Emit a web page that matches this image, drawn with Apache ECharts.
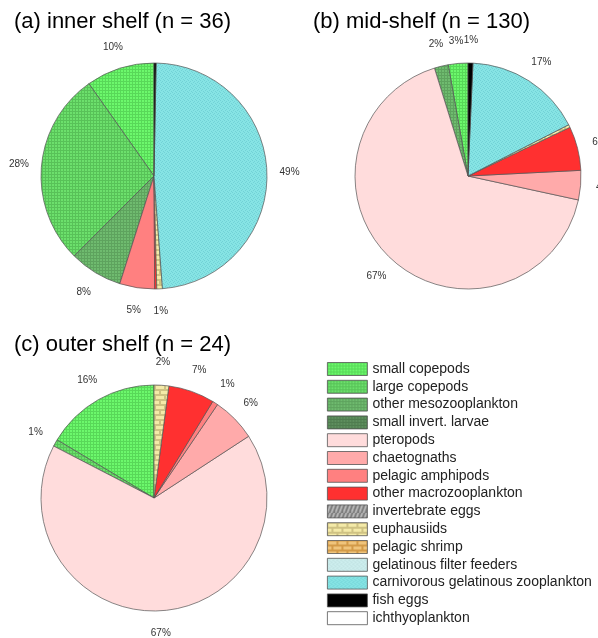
<!DOCTYPE html>
<html>
<head>
<meta charset="utf-8">
<script src="https://cdn.jsdelivr.net/npm/echarts@6/dist/echarts.min.js"></script>
<style>
html, body { margin: 0; padding: 0; background: #fff; }
#main { width: 598px; height: 638px; }
</style>
</head>
<body>
<div id="main"></div>
<script>
// categories, in the order of the legend (and of the slices, counter-clockwise from 12 o'clock)
var categories = [
    'small copepods', 'large copepods', 'other mesozooplankton', 'small invert. larvae',
    'pteropods', 'chaetognaths', 'pelagic amphipods', 'other macrozooplankton',
    'invertebrate eggs', 'euphausiids', 'pelagic shrimp', 'gelatinous filter feeders',
    'carnivorous gelatinous zooplankton', 'fish eggs', 'ichthyoplankton'
];
// percent of diet per shelf region
var innerShelf = [9.8, 27.8, 7.6, 0, 0, 0, 5.0, 0.3, 0, 0.8, 0, 0, 48.6, 0.3, 0];
var midShelf   = [2.8, 0, 2.0, 0, 66.8, 4.2, 0, 6.3, 0, 0.4, 0, 0, 16.8, 0.7, 0];
var outerShelf = [16.4, 1.0, 0, 0, 66.8, 6.3, 0.8, 6.6, 0, 2.1, 0, 0, 0, 0, 0];
var panelTitles = ['(a) inner shelf (n = 36)', '(b) mid-shelf (n = 130)', '(c) outer shelf (n = 24)'];

// --- fill patterns ---
function tile(w, h, draw) {
    var c = document.createElement('canvas');
    c.width = w; c.height = h;
    draw(c.getContext('2d'));
    return { image: c, repeat: 'repeat' };
}
function grid(base, line) {
    return tile(3, 3, function (ctx) {
        ctx.fillStyle = base; ctx.fillRect(0, 0, 3, 3);
        ctx.fillStyle = line; ctx.fillRect(0, 0, 3, 1); ctx.fillRect(0, 0, 1, 3);
    });
}
function speckle(base, dot) {
    return tile(4, 4, function (ctx) {
        ctx.fillStyle = base; ctx.fillRect(0, 0, 4, 4);
        ctx.fillStyle = dot;
        ctx.fillRect(0, 0, 1, 1); ctx.fillRect(2, 1, 1, 1);
        ctx.fillRect(1, 2, 1, 1); ctx.fillRect(3, 3, 1, 1);
    });
}
function bricks(base, block) {
    return tile(10, 10, function (ctx) {
        ctx.fillStyle = base; ctx.fillRect(0, 0, 10, 10);
        ctx.fillStyle = block;
        ctx.fillRect(1, 1, 8, 3);
        ctx.fillRect(-4, 6, 8, 3); ctx.fillRect(6, 6, 8, 3);
    });
}
function stripes(base, line) {
    return tile(8, 8, function (ctx) {
        ctx.fillStyle = base; ctx.fillRect(0, 0, 8, 8);
        ctx.strokeStyle = line; ctx.lineWidth = 1.5;
        ctx.beginPath();
        ctx.moveTo(0, 8); ctx.lineTo(3, 0);
        ctx.moveTo(4, 8); ctx.lineTo(7, 0);
        ctx.stroke();
    });
}

var fills = [
    grid('#6cf86c', '#58d858'),
    grid('#6ce06c', '#58c258'),
    grid('#6fbb6f', '#5ea35e'),
    grid('#5e8f5e', '#4f7c4f'),
    '#ffdcdc',
    '#ffaaaa',
    '#ff8080',
    '#ff3030',
    stripes('#7c7c7c', '#c8c8c8'),
    bricks('#cfc283', '#f4eaa8'),
    bricks('#d39a48', '#efc47c'),
    speckle('#cdeeee', '#bcdede'),
    speckle('#86e4e4', '#72d2d6'),
    '#000000',
    '#ffffff'
];

function buildData(values) {
    var out = [];
    for (var i = 0; i < categories.length; i++) {
        if (values[i] > 0) {
            out.push({ name: categories[i], value: values[i], itemStyle: { color: fills[i] } });
        }
    }
    return out;
}

function pieSeries(values, center) {
    return {
        type: 'pie',
        center: center,
        radius: 113,
        startAngle: 90,
        clockwise: false,
        avoidLabelOverlap: false,
        itemStyle: { borderColor: '#555', borderWidth: 0.7 },
        label: {
            show: true,
            position: 'outside',
            fontFamily: 'Liberation Sans, Arial, sans-serif',
            fontSize: 10,
            color: '#333',
            formatter: function (p) {
                var v = Math.round(p.value);
                return v >= 1 ? v + '%' : '';
            }
        },
        labelLine: { show: true, length: 22.6, length2: 0, lineStyle: { width: 0, opacity: 0 } },
        // put every label centred at 1.2 x radius along the slice's mid angle
        labelLayout: function (p) {
            var pts = p.labelLinePoints;
            if (!pts || !pts[1]) return {};
            return { x: pts[1][0], y: pts[1][1], align: 'center', verticalAlign: 'middle' };
        },
        emphasis: { disabled: true },
        data: buildData(values)
    };
}

// a hidden series holding every category so the legend lists all of them
var allOnes = categories.map(function () { return 1; });
var legendHolder = {
    type: 'pie',
    center: [-400, -400],
    radius: 5,
    silent: true,
    label: { show: false },
    labelLine: { show: false },
    itemStyle: { borderColor: '#555', borderWidth: 0.7 },
    data: buildData(allOnes)
};

var myChart = echarts.init(document.getElementById('main'));

var titleStyle = {
    fontFamily: 'Liberation Sans, Arial, sans-serif',
    fontSize: 22,
    fontWeight: 'normal',
    color: '#000'
};

var option = {
    animation: false,
    backgroundColor: '#fff',
    title: [
        { text: panelTitles[0], left: 14, top: 11, padding: 0, textStyle: titleStyle },
        { text: panelTitles[1], left: 313, top: 11, padding: 0, textStyle: titleStyle },
        { text: panelTitles[2], left: 14, top: 334, padding: 0, textStyle: titleStyle }
    ],
    legend: {
        orient: 'vertical',
        left: 327,
        top: 362,
        padding: 0,
        itemWidth: 40,
        itemHeight: 13,
        itemGap: 3.8,
        icon: 'rect',
        selectedMode: false,
        itemStyle: { borderColor: '#555', borderWidth: 0.8 },
        textStyle: {
            fontFamily: 'Liberation Sans, Arial, sans-serif',
            fontSize: 14,
            lineHeight: 14,
            color: '#222'
        },
        data: categories
    },
    series: [
        legendHolder,
        pieSeries(innerShelf, [154, 176]),
        pieSeries(midShelf, [468, 176]),
        pieSeries(outerShelf, [154, 498])
    ]
};

myChart.setOption(option);
</script>
</body>
</html>
